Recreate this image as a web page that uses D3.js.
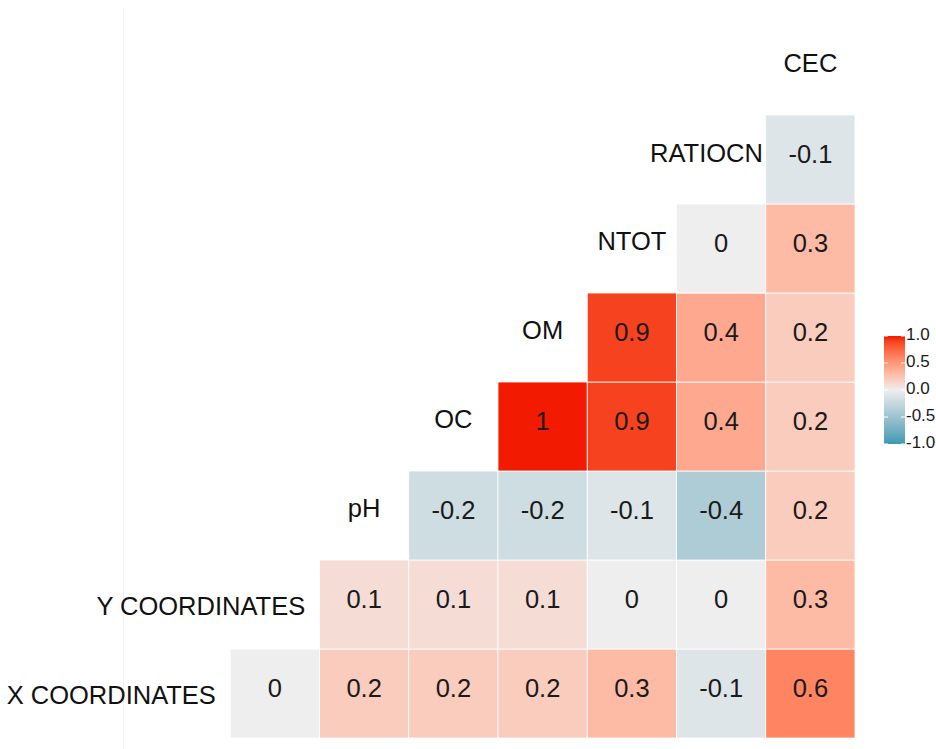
<!DOCTYPE html>
<html>
<head>
<meta charset="utf-8">
<script src="https://cdn.jsdelivr.net/npm/d3@7/dist/d3.min.js"></script>
<style>
  html, body { margin: 0; padding: 0; background: #ffffff; }
  svg { display: block; font-family: "Liberation Sans", Arial, sans-serif; }
</style>
</head>
<body>
<svg id="chart" width="936" height="749"></svg>
<script>
// ---- Data ----
const variables = ["X COORDINATES", "Y COORDINATES", "pH", "OC", "OM", "NTOT", "RATIOCN", "CEC"];
// correlations of each variable with the variables that follow it in `variables`
const corrXCoordinates = [0, 0.2, 0.2, 0.2, 0.3, -0.1, 0.6];
const corrYCoordinates = [0.1, 0.1, 0.1, 0, 0, 0.3];
const corrPH = [-0.2, -0.2, -0.1, -0.4, 0.2];
const corrOC = [1, 0.9, 0.4, 0.2];
const corrOM = [0.9, 0.4, 0.2];
const corrNTOT = [0, 0.3];
const corrRATIOCN = [-0.1];
const legendTicks = [1.0, 0.5, 0.0, -0.5, -1.0];

const corrRows = [corrXCoordinates, corrYCoordinates, corrPH, corrOC, corrOM, corrNTOT, corrRATIOCN];
const cells = [];
corrRows.forEach((row, i) => {
  row.forEach((v, k) => {
    const j = i + 1 + k;
    cells.push({ rowVar: variables[i], colVar: variables[j], value: v });
  });
});

// ---- Layout ----
const svg = d3.select("#chart");

// faint vertical rule at left
svg.append("line")
  .attr("x1", 123.5).attr("x2", 123.5).attr("y1", 8).attr("y2", 749)
  .attr("stroke", "#f2f2f2").attr("stroke-width", 1);

const x = d3.scaleBand().domain(variables).range([141, 855]).paddingInner(0).paddingOuter(0);
const y = d3.scaleBand().domain(variables.slice().reverse()).range([26, 738]).paddingInner(0).paddingOuter(0);
const bw = x.bandwidth(), bh = y.bandwidth();

const color = d3.scaleLinear()
  .domain([-1, 0, 1])
  .range(["#3B9AB2", "#EEEEEE", "#F21A00"])
  .interpolate(d3.interpolateLab)
  .clamp(true);

const hyphen = s => s.replace("\u2212", "-");
const fmtCell = v => (v === 0 ? "0" : (Math.abs(v) === 1 ? String(v) : hyphen(d3.format(".1f")(v))));
const fmtLegend = v => hyphen(d3.format(".1f")(v));

// cells
svg.append("g").selectAll("rect").data(cells).join("rect")
  .attr("x", d => x(d.colVar))
  .attr("y", d => y(d.rowVar))
  .attr("width", bw)
  .attr("height", bh)
  .attr("fill", d => color(d.value))
  .attr("stroke", "#ffffff")
  .attr("stroke-width", 0.8);

// cell labels
svg.append("g").selectAll("text").data(cells).join("text")
  .attr("x", d => x(d.colVar) + bw / 2)
  .attr("y", d => y(d.rowVar) + bh / 2 + 3.5)
  .attr("text-anchor", "middle")
  .attr("font-size", 25.5)
  .attr("fill", "#1a1a1a")
  .text(d => fmtCell(d.value));

// diagonal variable labels
const diag = svg.append("g").selectAll("text").data(variables).join("text")
  .attr("x", d => x(d) + bw / 2)
  .attr("y", d => y(d) + bh / 2 + 1)
  .attr("text-anchor", "middle")
  .attr("font-size", 25.5)
  .attr("fill", "#111111")
  .text(d => d);
diag.each(function(d) {
  const w = this.getComputedTextLength();
  if (w > bw) {
    const over = w - bw;
    d3.select(this)
      .attr("x", x(d) + bw / 2 - 0.62 * over)
      .attr("y", y(d) + bh / 2 + 1 + 0.08 * over);
  }
});

// ---- Legend ----
const lgX = 884, lgW = 21, lgTop = 336, lgBottom = 444;
const ly = d3.scaleLinear().domain([1, -1]).range([lgTop, lgBottom]);
const defs = svg.append("defs");
const grad = defs.append("linearGradient").attr("id", "lg")
  .attr("x1", 0).attr("y1", 0).attr("x2", 0).attr("y2", 1);
d3.range(0, 21).forEach(k => {
  const t = k / 20;
  grad.append("stop").attr("offset", t).attr("stop-color", color(1 - 2 * t));
});
svg.append("rect")
  .attr("x", lgX).attr("y", lgTop).attr("width", lgW).attr("height", lgBottom - lgTop)
  .attr("fill", "url(#lg)");

const tg = svg.append("g");
legendTicks.forEach(v => {
  const yy = ly(v);
  tg.append("line").attr("x1", lgX).attr("x2", lgX + 4).attr("y1", yy).attr("y2", yy)
    .attr("stroke", "#ffffff").attr("stroke-width", 1);
  tg.append("line").attr("x1", lgX + lgW - 4).attr("x2", lgX + lgW).attr("y1", yy).attr("y2", yy)
    .attr("stroke", "#ffffff").attr("stroke-width", 1);
  tg.append("text")
    .attr("x", 906).attr("y", yy + 4)
    .attr("font-size", 17)
    .attr("fill", "#1a1a1a")
    .text(fmtLegend(v));
});
</script>
</body>
</html>
